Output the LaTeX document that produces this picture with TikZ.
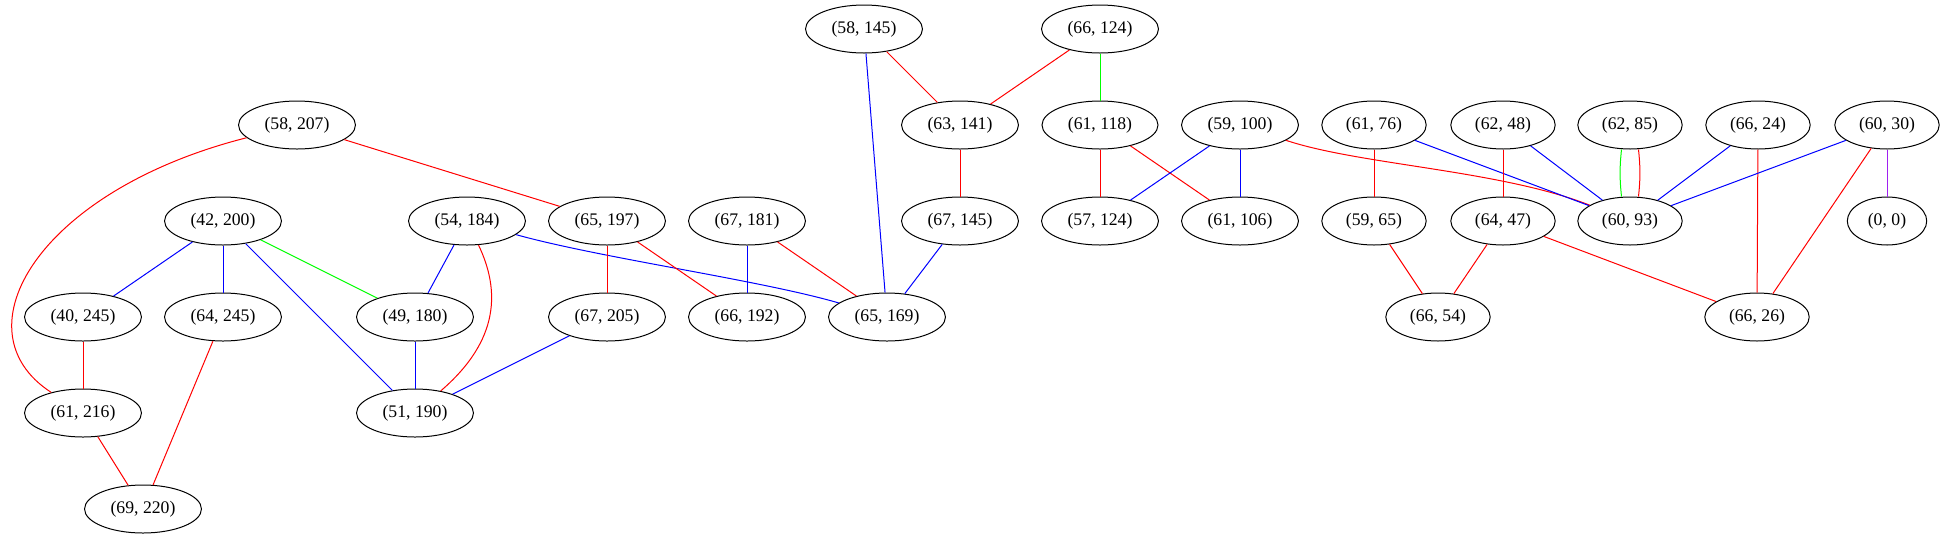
\documentclass[tikz,border=0pt]{standalone}
\usepackage{fontspec}
\setmainfont{Liberation Serif}
\usetikzlibrary{shapes.geometric}
\definecolor{gvpurple}{HTML}{A020F0}
\begin{document}
\begin{tikzpicture}[x=1pt, y=-1pt, line width=1pt,
  vtx/.style={draw, ellipse, inner xsep=8.9pt, inner ysep=0pt, minimum height=48pt,
    font=\fontsize{17.7}{20}\selectfont}]
\useasboundingbox (0,0) rectangle (1944,539);
% row 1
\node[vtx] (v58-145) at (864,29) {(58, 145)};
\node[vtx] (v66-124) at (1100,29) {(66, 124)};
% row 2
\node[vtx] (v58-207) at (297,125) {(58, 207)};
\node[vtx] (v63-141) at (960,125) {(63, 141)};
\node[vtx] (v61-118) at (1100,125) {(61, 118)};
\node[vtx] (v59-100) at (1240,125) {(59, 100)};
\node[vtx] (v61-76) at (1374,125) {(61, 76)};
\node[vtx] (v62-48) at (1503,125) {(62, 48)};
\node[vtx] (v62-85) at (1630,125) {(62, 85)};
\node[vtx] (v66-24) at (1758,125) {(66, 24)};
\node[vtx] (v60-30) at (1887,125) {(60, 30)};
% row 3
\node[vtx] (v42-200) at (223,221) {(42, 200)};
\node[vtx] (v54-184) at (467,221) {(54, 184)};
\node[vtx] (v65-197) at (607,221) {(65, 197)};
\node[vtx] (v67-181) at (747,221) {(67, 181)};
\node[vtx] (v67-145) at (960,221) {(67, 145)};
\node[vtx] (v57-124) at (1100,221) {(57, 124)};
\node[vtx] (v61-106) at (1240,221) {(61, 106)};
\node[vtx] (v59-65) at (1374,221) {(59, 65)};
\node[vtx] (v64-47) at (1503,221) {(64, 47)};
\node[vtx] (v60-93) at (1630,221) {(60, 93)};
\node[vtx] (v0-0) at (1887,221) {(0, 0)};
% row 4
\node[vtx] (v40-245) at (83,317) {(40, 245)};
\node[vtx] (v64-245) at (223,317) {(64, 245)};
\node[vtx] (v49-180) at (415,317) {(49, 180)};
\node[vtx] (v67-205) at (607,317) {(67, 205)};
\node[vtx] (v66-192) at (747,317) {(66, 192)};
\node[vtx] (v65-169) at (887,317) {(65, 169)};
\node[vtx] (v66-54) at (1438,317) {(66, 54)};
\node[vtx] (v66-26) at (1757,317) {(66, 26)};
% rows 5 and 6
\node[vtx] (v61-216) at (83,413) {(61, 216)};
\node[vtx] (v51-190) at (415,413) {(51, 190)};
\node[vtx] (v69-220) at (143,509) {(69, 220)};

% left part
\draw[red] (v58-207) .. controls (40,190) and (-45,330) .. (v61-216);
\draw[red] (v58-207)--(v65-197);
\draw[blue] (v42-200)--(v40-245);
\draw[blue] (v42-200)--(v64-245);
\draw[blue] (v42-200)--(v51-190);
\draw[green] (v42-200)--(v49-180);
\draw[blue] (v54-184)--(v49-180);
\draw[red] (v54-184) .. controls (500,290) and (500,340) .. (v51-190);
\draw[blue] (v54-184) .. controls (600,258) and (760,280) .. (v65-169);
\draw[red] (v65-197)--(v67-205);
\draw[red] (v65-197)--(v66-192);
\draw[red] (v40-245)--(v61-216);
\draw[red] (v64-245)--(v69-220);
\draw[red] (v61-216)--(v69-220);
\draw[blue] (v49-180)--(v51-190);
\draw[blue] (v67-205)--(v51-190);
% middle part
\draw[red] (v58-145)--(v63-141);
\draw[blue] (v58-145)--(v65-169);
\draw[red] (v66-124)--(v63-141);
\draw[green] (v66-124)--(v61-118);
\draw[red] (v63-141)--(v67-145);
\draw[blue] (v67-145)--(v65-169);
\draw[blue] (v67-181)--(v66-192);
\draw[red] (v67-181)--(v65-169);
\draw[red] (v61-118)--(v57-124);
\draw[red] (v61-118)--(v61-106);
\draw[blue] (v59-100)--(v57-124);
\draw[blue] (v59-100)--(v61-106);
\draw[red] (v59-100) .. controls (1360,165) and (1500,170) .. (v60-93);
% right part
\draw[red] (v61-76)--(v59-65);
\draw[blue] (v61-76)--(v60-93);
\draw[red] (v62-48)--(v64-47);
\draw[blue] (v62-48)--(v60-93);
\draw[green] ([xshift=-8.5pt]v62-85.south) to[bend right=6] ([xshift=-8.5pt]v60-93.north);
\draw[red] ([xshift=8.5pt]v62-85.south) to[bend left=6] ([xshift=8.5pt]v60-93.north);
\draw[blue] (v66-24)--(v60-93);
\draw[red] (v66-24)--(v66-26);
\draw[blue] (v60-30)--(v60-93);
\draw[red] (v60-30)--(v66-26);
\draw[gvpurple] (v60-30)--(v0-0);
\draw[red] (v59-65)--(v66-54);
\draw[red] (v64-47)--(v66-54);
\draw[red] (v64-47)--(v66-26);
\end{tikzpicture}
\end{document}
